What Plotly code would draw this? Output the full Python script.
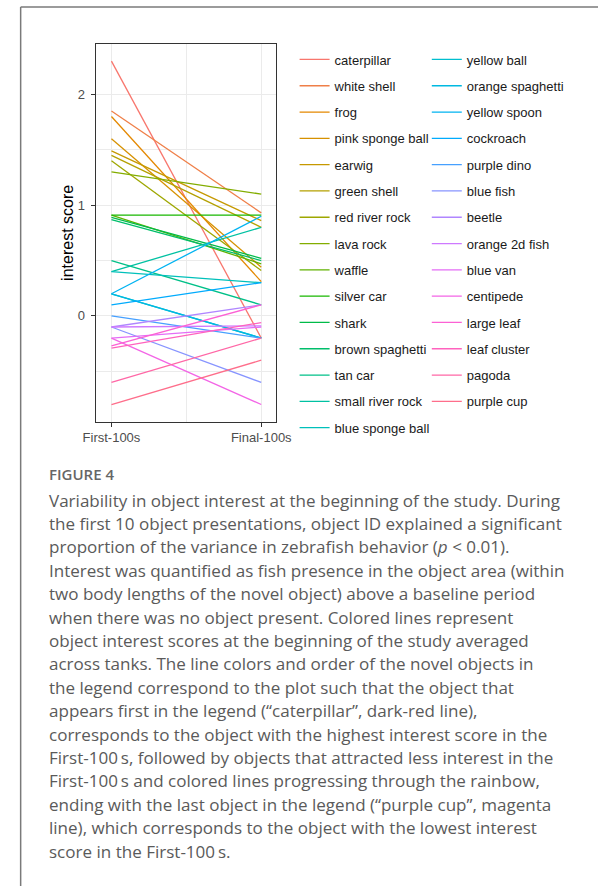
import math
import plotly.graph_objects as go

# Novel objects, ordered by interest score in the First-100s (highest first)
objects = [
    "caterpillar", "white shell", "frog", "pink sponge ball", "earwig",
    "green shell", "red river rock", "lava rock", "waffle", "silver car",
    "shark", "brown spaghetti", "tan car", "small river rock",
    "blue sponge ball", "yellow ball", "orange spaghetti", "yellow spoon",
    "cockroach", "purple dino", "blue fish", "beetle", "orange 2d fish",
    "blue van", "centipede", "large leaf", "leaf cluster", "pagoda",
    "purple cup",
]
first_100s = [
    2.30, 1.85, 1.80, 1.60, 1.49, 1.45, 1.40, 1.30, 0.91, 0.91,
    0.89, 0.87, 0.50, 0.40, 0.40, 0.20, 0.20, 0.20, 0.10, 0.00,
    -0.10, -0.10, -0.10, -0.20, -0.20, -0.27, -0.29, -0.60, -0.80,
]
final_100s = [
    -0.20, 0.93, 0.31, 0.44, 0.86, 0.80, 0.41, 1.10, 0.47, 0.91,
    0.52, 0.50, 0.10, 0.80, 0.30, -0.20, -0.20, 0.90, 0.30, -0.20,
    -0.60, 0.10, -0.09, -0.10, -0.80, 0.10, -0.06, -0.20, -0.40,
]
periods = ["First-100s", "Final-100s"]
period_pos = [1, 2]

caption_title = "FIGURE 4"
caption_lines = [
    "Variability in object interest at the beginning of the study. During",
    "the first 10 object presentations, object ID explained a significant",
    "proportion of the variance in zebrafish behavior (<i>p</i> &lt; 0.01).",
    "Interest was quantified as fish presence in the object area (within",
    "two body lengths of the novel object) above a baseline period",
    "when there was no object present. Colored lines represent",
    "object interest scores at the beginning of the study averaged",
    "across tanks. The line colors and order of the novel objects in",
    "the legend correspond to the plot such that the object that",
    "appears first in the legend (\u201ccaterpillar\u201d, dark-red line),",
    "corresponds to the object with the highest interest score in the",
    "First-100\u2009s, followed by objects that attracted less interest in the",
    "First-100\u2009s and colored lines progressing through the rainbow,",
    "ending with the last object in the legend (\u201cpurple cup\u201d, magenta",
    "line), which corresponds to the object with the lowest interest",
    "score in the First-100\u2009s.",
]


def hcl_to_hex(h, c=100.0, l=65.0):
    """Polar CIE-Luv colour to sRGB hex (D65 white)."""
    xn, yn, zn = 95.047, 100.0, 108.883
    un = 4 * xn / (xn + 15 * yn + 3 * zn)
    vn = 9 * yn / (xn + 15 * yn + 3 * zn)
    u = c * math.cos(math.radians(h))
    v = c * math.sin(math.radians(h))
    y = yn * (((l + 16) / 116) ** 3 if l > 8 else l / 903.3)
    up = u / (13 * l) + un
    vp = v / (13 * l) + vn
    x = y * 9 * up / (4 * vp)
    z = y * (12 - 3 * up - 20 * vp) / (4 * vp)
    x, y, z = x / 100, y / 100, z / 100
    r = 3.240479 * x - 1.537150 * y - 0.498535 * z
    g = -0.969256 * x + 1.875992 * y + 0.041556 * z
    b = 0.055648 * x - 0.204043 * y + 1.057311 * z

    def gam(t):
        t = 12.92 * t if t <= 0.0031308 else 1.055 * t ** (1 / 2.4) - 0.055
        return max(0, min(255, round(t * 255)))

    return "#%02X%02X%02X" % (gam(r), gam(g), gam(b))


n = len(objects)
hues = [15 + i * 360 / n for i in range(n)]
colors = [hcl_to_hex(h) for h in hues]

W, H = 614, 886


def px_x(p):
    return p / W


def px_y(p):
    return 1 - p / H


fig = go.Figure()
for i, name in enumerate(objects):
    fig.add_trace(go.Scatter(
        x=period_pos,
        y=[first_100s[i], final_100s[i]],
        mode="lines",
        name=name,
        line=dict(color=colors[i], width=1.3),
        legend="legend" if i < 15 else "legend2",
        legendgroup=name,
        hoverinfo="name+y",
    ))

grid_col = "#EBEBEB"
axis_font = dict(family="Liberation Sans, Arial, sans-serif", size=13, color="#4D4D4D")

legend_common = dict(
    font=dict(family="Liberation Sans, Arial, sans-serif", size=13, color="#1A1A1A"),
    bgcolor="rgba(0,0,0,0)",
    borderwidth=0,
    tracegroupgap=6.4,
    xanchor="left",
    yanchor="top",
    orientation="v",
)

fig.update_layout(
    width=W,
    height=H,
    autosize=False,
    margin=dict(l=0, r=0, t=0, b=0),
    paper_bgcolor="white",
    plot_bgcolor="white",
    xaxis=dict(
        domain=[px_x(86.7), px_x(275.7)],
        range=[0.9, 2.1],
        tickvals=period_pos,
        ticktext=periods,
        tickfont=axis_font,
        ticks="outside",
        ticklen=4,
        tickwidth=1,
        tickcolor="#333333",
        showgrid=True,
        gridcolor=grid_col,
        gridwidth=1.2,
        minor=dict(tickvals=[1.5], showgrid=True, gridcolor=grid_col, gridwidth=0.6, ticks=""),
        showline=True,
        linecolor="#333333",
        linewidth=1,
        mirror=True,
        zeroline=False,
        fixedrange=True,
    ),
    yaxis=dict(
        domain=[px_y(421.7), px_y(44)],
        range=[-0.955, 2.455],
        tickvals=[0, 1, 2],
        ticktext=["0", "1", "2"],
        tickfont=axis_font,
        ticks="outside",
        ticklen=4,
        tickwidth=1,
        tickcolor="#333333",
        ticklabelstandoff=4,
        showgrid=True,
        gridcolor=grid_col,
        gridwidth=1.2,
        minor=dict(tickvals=[-0.5, 0.5, 1.5], showgrid=True, gridcolor=grid_col, gridwidth=0.6, ticks=""),
        showline=True,
        linecolor="#333333",
        linewidth=1,
        mirror=True,
        zeroline=False,
        title=dict(
            text="interest score",
            font=dict(family="Liberation Sans, Arial, sans-serif", size=16, color="#000000"),
            standoff=0,
        ),
        automargin=False,
        fixedrange=True,
    ),
    legend=dict(x=px_x(295), y=px_y(44.5), **legend_common),
    legend2=dict(x=px_x(434), y=px_y(44.5), **legend_common),
    showlegend=True,
)

# Figure frame (left and top rules)
frame_col = "#7A7A7A"
fig.add_shape(type="line", xref="paper", yref="paper",
              x0=px_x(7), x1=px_x(7), y0=0, y1=px_y(7),
              line=dict(color=frame_col, width=1.5))
fig.add_shape(type="line", xref="paper", yref="paper",
              x0=px_x(7), x1=1, y0=px_y(7), y1=px_y(7),
              line=dict(color=frame_col, width=1.5))

# Caption
cap_font = "Open Sans, Lato, sans-serif"
cap_x = 35
fig.add_annotation(
    text=caption_title, xref="paper", yref="paper",
    x=px_x(cap_x), y=px_y(474), xanchor="left", yanchor="middle",
    showarrow=False,
    font=dict(family=cap_font, size=15, color="#666666", weight=600),
)
line0, step = 500.0, 23.4
for k, line in enumerate(caption_lines):
    fig.add_annotation(
        text=line, xref="paper", yref="paper",
        x=px_x(cap_x), y=px_y(line0 + k * step), xanchor="left", yanchor="middle",
        showarrow=False,
        font=dict(family=cap_font, size=17.05, color="#5A5A5A"),
    )

fig.write_html("out.html")
